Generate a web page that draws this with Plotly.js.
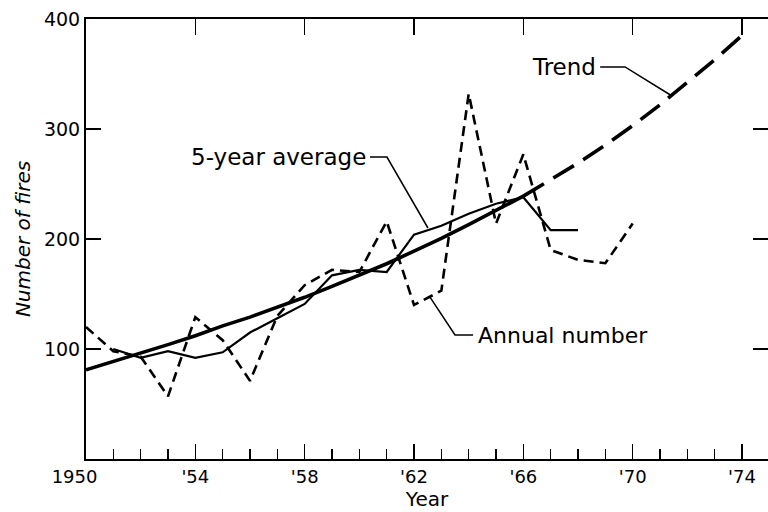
<!DOCTYPE html>
<html>
<head>
<meta charset="utf-8">
<script src="https://cdn.plot.ly/plotly-3.0.1.min.js"></script>
<style>html,body{margin:0;padding:0;background:#fff;}#chart{width:768px;height:512px;}</style>
</head>
<body>
<div id="chart"></div>
<script>
// ---- data ----
const annualYears = [1950,1951,1952,1953,1954,1955,1956,1957,1958,1959,1960,1961,1962,1963,1964,1965,1966,1967,1968,1969,1970];
const annualFires = [120,98,93,57,129,108,71,130,158,172,170,216,140,153,332,214,277,190,181,178,214];

const avgYears = [1951,1952,1953,1954,1955,1956,1957,1958,1959,1960,1961,1962,1963,1964,1965,1966,1967,1968];
const avgFires = [100,92,98,92,97,115,128,141,167,172,170,204,212,223,232,238,208,208];

const trendYears = [1950,1951,1952,1953,1954,1955,1956,1957,1958,1959,1960,1961,1962,1963,1964,1965,1966,1967,1968,1969,1970,1971,1972,1973,1974];
const trendFires = [81,88.5,96,104,112,121,129,138,147,157,167,177.5,189,200.5,213,226,239,254,269,285.5,303,322,342,363,385];
const trendSplitYear = 1966; // solid up to here, projected (dashed) after

const xTickVals = [1950,1954,1958,1962,1966,1970,1974];
const xTickText = ["1950\u00a0\u00a0\u00a0\u00a0","'54","'58","'62","'66","'70","'74"];
const topTickVals = [1954,1958,1962,1966,1970,1974];
const yTickVals = [100,200,300,400];
const yTickText = ["100","200","300","400"];
const rightTickVals = [100,200,300];

const labelTrend = "Trend";
const labelAvg = "5-year average";
const labelAnnual = "Annual number";

// leader lines (data coords)
const leaderTrend = {x:[1968.81,1969.72,1971.44], y:[356.4,356.4,330]};
const leaderAvg = {x:[1960.39,1961.01,1962.51], y:[274.5,274.5,210]};
const leaderAnnual = {x:[1964.16,1963.5,1962.59], y:[112.7,112.7,147]};

// ---- build ----
const splitIdx = trendYears.indexOf(trendSplitYear);
const FONT = "DejaVu Sans";

function leader(l){
  return {x:l.x, y:l.y, mode:'lines', line:{color:'#000', width:1.5}, hoverinfo:'skip', showlegend:false};
}

const traces = [
  {x: trendYears.slice(0, splitIdx+1), y: trendFires.slice(0, splitIdx+1), mode:'lines',
   line:{color:'#000', width:3.6}, showlegend:false},
  {x: trendYears.slice(splitIdx), y: trendFires.slice(splitIdx), mode:'lines',
   line:{color:'#000', width:3.6, dash:'24px,11px'}, showlegend:false},
  {x: avgYears, y: avgFires, mode:'lines', line:{color:'#000', width:2.2}, showlegend:false},
  {x: annualYears, y: annualFires, mode:'lines', line:{color:'#000', width:2.6, dash:'10px,6px'}, showlegend:false},
  leader(leaderTrend), leader(leaderAvg), leader(leaderAnnual),
  {x:[1950], y:[0], xaxis:'x2', yaxis:'y2', mode:'markers', marker:{opacity:0}, hoverinfo:'skip', showlegend:false}
];

const layout = {
  width:768, height:512,
  margin:{l:86, r:0, t:19, b:53},
  paper_bgcolor:'#fff', plot_bgcolor:'#fff',
  font:{family:FONT, color:'#000', size:19},
  showlegend:false,
  xaxis:{
    range:[1950,1974.95], showgrid:false, zeroline:false,
    showline:true, linecolor:'#000', linewidth:2,
    tickmode:'array', tickvals:xTickVals, ticktext:xTickText,
    ticks:'inside', ticklen:15, tickwidth:1.5, tickcolor:'#000',
    minor:{dtick:1, tick0:1950, ticks:'inside', ticklen:10, tickwidth:1.5, tickcolor:'#000', showgrid:false},
    tickfont:{family:FONT, size:18},
    title:{text:'Year', font:{family:FONT, size:20}, standoff:4}
  },
  yaxis:{
    range:[0,400], showgrid:false, zeroline:false,
    showline:true, linecolor:'#000', linewidth:2,
    tickmode:'array', tickvals:yTickVals, ticktext:yTickText,
    ticks:'inside', ticklen:15, tickwidth:1.5, tickcolor:'#000',
    tickfont:{family:FONT, size:19},
    title:{text:'<i>Number of fires</i>', font:{family:FONT, size:20}, standoff:8}
  },
  xaxis2:{
    overlaying:'x', side:'top', range:[1950,1974.95], showgrid:false, zeroline:false,
    showline:true, linecolor:'#000', linewidth:2,
    tickmode:'array', tickvals:topTickVals, ticks:'inside', ticklen:16, tickwidth:1.5, tickcolor:'#000',
    showticklabels:false
  },
  yaxis2:{
    overlaying:'y', side:'right', range:[0,400], showgrid:false, zeroline:false,
    showline:false, tickmode:'array', tickvals:rightTickVals,
    ticks:'inside', ticklen:15, tickwidth:1.5, tickcolor:'#000', showticklabels:false
  },
  annotations:[
    {x:leaderTrend.x[0], y:leaderTrend.y[0], xref:'x', yref:'y', text:labelTrend, showarrow:false,
     xanchor:'right', yanchor:'middle', xshift:-2, font:{family:FONT, size:23}},
    {x:leaderAvg.x[0], y:leaderAvg.y[0], xref:'x', yref:'y', text:labelAvg, showarrow:false,
     xanchor:'right', yanchor:'middle', xshift:-2, font:{family:FONT, size:23}},
    {x:leaderAnnual.x[0], y:leaderAnnual.y[0], xref:'x', yref:'y', text:labelAnnual, showarrow:false,
     xanchor:'left', yanchor:'middle', xshift:3, font:{family:FONT, size:22}}
  ]
};

Plotly.newPlot('chart', traces, layout, {staticPlot:true, displayModeBar:false});
</script>
</body>
</html>
